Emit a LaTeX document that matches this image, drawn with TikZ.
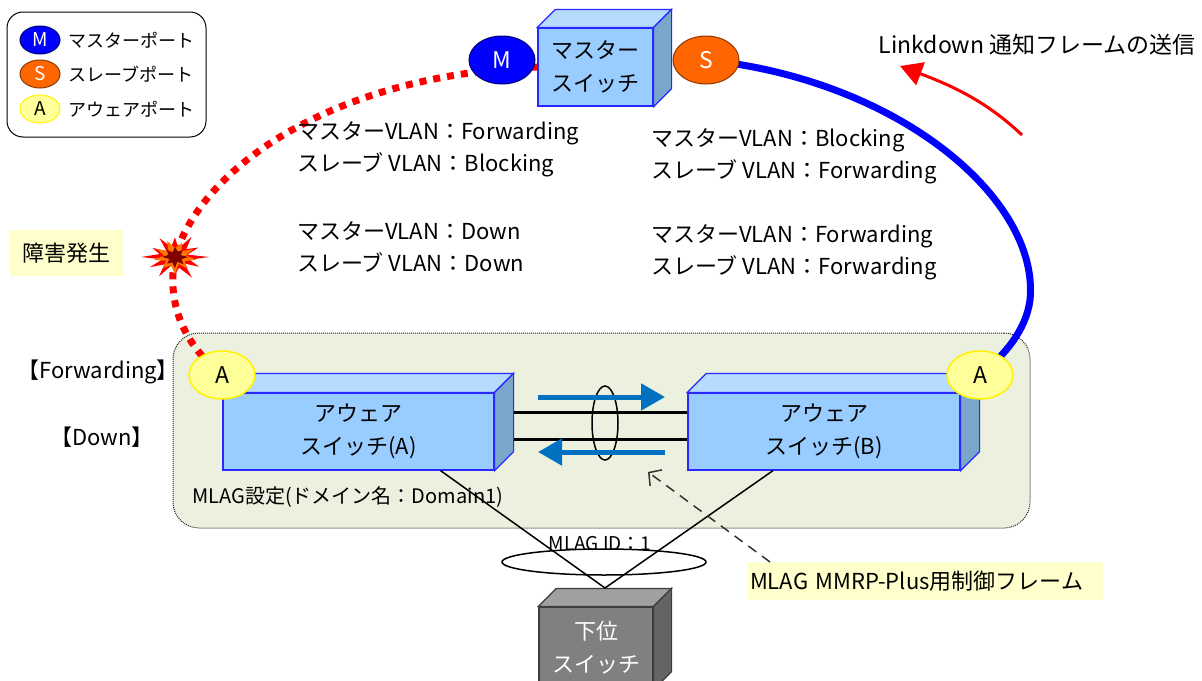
\documentclass[tikz,border=0pt]{standalone}
\usepackage{fontspec}
\setmainfont{Noto Sans CJK JP}
\usepackage{tikz}
\usetikzlibrary{arrows.meta,positioning,shapes.geometric,calc}
\definecolor{swfront}{RGB}{153,204,255}
\definecolor{swtop}{RGB}{182,219,255}
\definecolor{swside}{RGB}{122,166,204}
\definecolor{swline}{RGB}{40,40,255}
\definecolor{lowfront}{RGB}{128,128,128}
\definecolor{lowtop}{RGB}{160,160,160}
\definecolor{lowside}{RGB}{100,100,100}
\definecolor{lowline}{RGB}{60,60,60}
\definecolor{mport}{RGB}{0,0,255}
\definecolor{sport}{RGB}{255,102,0}
\definecolor{aport}{RGB}{255,255,153}
\definecolor{domainbg}{RGB}{235,241,222}
\definecolor{notebg}{RGB}{255,255,204}
\definecolor{linkblue}{RGB}{0,112,192}
\definecolor{boomorange}{RGB}{255,120,0}
\definecolor{boomdark}{RGB}{128,0,0}

% top and side faces of a box drawn behind a front-face node
\newcommand{\cubefaces}[5]{%
  \filldraw[draw=#5, fill=#3, line width=1.2pt] (#1.north west) -- ++(#2,-#2) -- ($(#1.north east)+(#2,-#2)$) -- (#1.north east) -- cycle;
  \filldraw[draw=#5, fill=#4, line width=1.2pt] (#1.north east) -- ++(#2,-#2) -- ($(#1.south east)+(#2,-#2)$) -- (#1.south east) -- cycle;}

\begin{document}
\begin{tikzpicture}[
    x=1pt, y=-1pt,
    txt/.style={font=\fontsize{22}{32}\selectfont, align=left, anchor=west, inner sep=0pt},
    front/.style={rectangle, draw=swline, fill=swfront, line width=1.2pt, align=center, inner sep=0pt, font=\fontsize{22}{33}\selectfont},
    port/.style={ellipse, minimum width=66pt, minimum height=48pt, inner sep=0pt, line width=1pt, font=\fontsize{23}{26}\selectfont},
    mp/.style={port, fill=mport, draw=mport!45!black, text=white},
    sp/.style={port, fill=sport, draw=sport!55!black, text=white},
    ap/.style={port, fill=aport, draw=yellow, line width=1.5pt},
    small/.style={minimum width=40pt, minimum height=28pt, font=\fontsize{19}{22}\selectfont},
    note/.style={fill=notebg, inner sep=0pt, font=\fontsize{22}{26}\selectfont},
    ring/.style={line width=7pt},
    link/.style={line width=3pt},
    flow/.style={draw=linkblue, line width=5pt, -{Triangle[length=24pt,width=26pt]}}
  ]
  \clip (0,0) rectangle (1202,680);

  % legend
  \node[draw, line width=1pt, rounded corners=16pt, minimum width=199pt, minimum height=125pt] (legend) at (106.5,74.5) {};
  \node[mp, small] (lgM) at (40,40) {M};
  \node[sp, small] (lgS) at (40,74) {S};
  \node[ap, small, line width=1pt] (lgA) at (40,109) {A};
  \node[txt, font=\fontsize{18}{20}\selectfont, right=8pt of lgM] {マスターポート};
  \node[txt, font=\fontsize{18}{20}\selectfont, right=8pt of lgS] {スレーブポート};
  \node[txt, font=\fontsize{18}{20}\selectfont, right=8pt of lgA] {アウェアポート};

  % MLAG domain
  \node[draw=black!85, densely dotted, line width=1pt, fill=domainbg, rounded corners=26pt,
        minimum width=857pt, minimum height=195pt] (dom) at (601.5,430.5) {};

  \node[note, minimum width=113pt, minimum height=46pt] (fault) at (66.5,253) {障害発生};

  % master switch
  \node[front, minimum width=115pt, minimum height=78pt] (msw) at (595.5,67) {マスター\\スイッチ};
  \cubefaces{msw}{18}{swtop}{swside}{swline}

  \coordinate (mPos) at (502,60);
  \coordinate (sPos) at (706,60);
  \coordinate (aApos) at (222,375);
  \coordinate (aBpos) at (980,375);
  \coordinate (boom) at (175,257);

  % ring: failed side and working side
  \draw[ring, red, dash pattern=on 7pt off 7pt] (msw.west) .. controls (330,75) and (200,170) .. (boom)
    .. controls (166,305) and (185,345) .. (aApos);
  \draw[ring, blue] (sPos) .. controls (900,80) and (1040,200) .. (1030,300)
    .. controls (1026,330) and (1005,355) .. (aBpos);

  \node[mp] (mP) at (mPos) {M};
  \node[sp] (sP) at (sPos) {S};

  % burst
  \fill[red] ($(boom)+(0:34 and 24)$) \foreach \r [count=\i] in {15,28,13,34,16,25,12,32,15,29,13,34,16,26,12,31,15,28,13,33,16,27,13}
    { -- ($(boom)+({\i*15}:{\r} and {0.7*\r})$) } -- cycle;
  \fill[boomorange] ($(boom)+(10:22 and 16)$) \foreach \r [count=\i] in {11,20,10,23,12,19,10,22,11,21,10,23,12,20,10,21,11}
    { -- ($(boom)+({10+\i*20}:{\r} and {0.75*\r})$) } -- cycle;
  \fill[boomdark] ($(boom)+(0:13 and 11)$) \foreach \r [count=\i] in {7,12,6,13,7,11,6,13,7,12,6,12,7,11,6}
    { -- ($(boom)+({\i*22.5}:{\r} and {0.85*\r})$) } -- cycle;

  % aware switches
  \node[front, minimum width=271pt, minimum height=77pt] (swA) at (358.5,431.5) {アウェア\\スイッチ(A)};
  \cubefaces{swA}{19}{swtop}{swside}{swline}
  \node[front, minimum width=272pt, minimum height=77pt] (swB) at (824,431.5) {アウェア\\スイッチ(B)};
  \cubefaces{swB}{19}{swtop}{swside}{swline}

  \draw[line width=1.5pt] (605,423) ellipse [x radius=13, y radius=37];
  \draw[link] ($(swA.east)+(19,-19.5)$) -- ($(swB.west)+(0,-19.5)$);
  \draw[link] ($(swA.east)+(19,7.5)$) -- ($(swB.west)+(0,7.5)$);
  \coordinate (fwdS) at (538,397);
  \coordinate (fwdE) at (665,397);
  \coordinate (bwdS) at (665,452);
  \coordinate (bwdE) at (538,452);
  \draw[flow] (fwdS) -- (fwdE);
  \draw[flow] (bwdS) -- (bwdE);

  \node[ap] (aA) at (aApos) {A};
  \node[ap] (aB) at (aBpos) {A};

  \node[txt, font=\fontsize{20}{24}\selectfont] (domname) at (192,497) {MLAG設定(ドメイン名：Domain1)};

  % lower switch and its MLAG
  \node[front, draw=lowline, fill=lowfront, text=white, minimum width=114pt, minimum height=82pt] (low) at (596,648) {下位\\スイッチ};
  \cubefaces{low}{18}{lowtop}{lowside}{lowline}
  \coordinate (apex) at (605,588);
  \draw[line width=1.5pt] ($(swA.south)+(82,0)$) -- (apex) -- ($(swB.south)+(-51,0)$);
  \draw[line width=1.5pt] (604,562) ellipse [x radius=102, y radius=13];
  \node[font=\fontsize{19}{22}\selectfont, inner sep=0pt] (mlagid) at (600,544) {MLAG ID：1};

  % control frame
  \node[note, minimum width=355pt, minimum height=38pt, text width=351pt, align=left] (ctl) at (925.5,581) {MLAG MMRP-Plus用制御フレーム};
  \coordinate (ctlS) at (770,562);
  \coordinate (ctlE) at (648,472);
  \draw[draw=black!80, line width=1.5pt, dash pattern=on 10pt off 7pt, -{Straight Barb[length=9pt,width=20pt]}] (ctlS) -- (ctlE);

  % port states
  \node[txt] (stA1) at (297,149.5) {マスターVLAN：Forwarding\\スレーブ VLAN：Blocking};
  \node[txt] (stA2) at (297,247) {マスターVLAN：Down\\スレーブ VLAN：Down};
  \node[txt] (stB1) at (651,156) {マスターVLAN：Blocking\\スレーブ VLAN：Forwarding};
  \node[txt] (stB2) at (651,252) {マスターVLAN：Forwarding\\スレーブ VLAN：Forwarding};
  \node[txt] (fwd) at (17,372) {【Forwarding】};
  \node[txt] (down) at (50,437) {【Down】};

  % linkdown notice
  \node[txt, anchor=east, font=\fontsize{23}{26}\selectfont] (ldtxt) at (1196,45) {Linkdown 通知フレームの送信};
  \coordinate (ldS) at (1022,135);
  \coordinate (ldE) at (900,66);
  \draw[red, line width=3pt, -{Triangle[length=22pt,width=24pt]}] (ldS) .. controls (985,100) and (950,85) .. (ldE);
\end{tikzpicture}
\end{document}
